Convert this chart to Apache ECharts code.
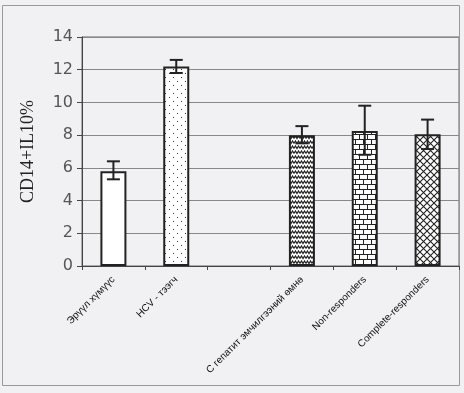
<!DOCTYPE html>
<html><head><meta charset="utf-8">
<script src="https://cdn.jsdelivr.net/npm/echarts@6/dist/echarts.min.js"></script>
<style>html,body{margin:0;padding:0;background:#f1f1f3}#c{width:464px;height:393px}</style>
</head><body><div id="c"></div>
<script>
const categories = ['Эрүүл хүмүүс', 'HCV - тээгч', '', 'С гепатит эмчилгээний өмнө', 'Non-responders', 'Complete-responders'];
const values = [5.8, 12.2, null, 8.0, 8.25, 8.05];
const errLow = [5.3, 11.8, null, 7.5, 6.8, 7.15];
const errHigh = [6.4, 12.6, null, 8.55, 9.8, 8.95];
const yTicks = [0, 2, 4, 6, 8, 10, 12, 14];

function mk(w, h, draw) {
  const c = document.createElement('canvas'); c.width = w; c.height = h;
  const g = c.getContext('2d'); g.fillStyle = '#fff'; g.fillRect(0, 0, w, h);
  g.strokeStyle = '#222'; g.fillStyle = '#333'; g.lineWidth = 1; draw(g); return c;
}
const patDots = mk(8, 8, g => { g.fillRect(1, 1, 1, 1); g.fillRect(5, 5, 1, 1); });
const patWave = mk(6, 5, g => { g.beginPath(); g.moveTo(0, 3.5); g.lineTo(1.5, 1); g.lineTo(3, 3.5); g.lineTo(4.5, 1); g.lineTo(6, 3.5); g.lineWidth = 1.2; g.stroke(); });
const patBrick = mk(8, 10, g => {
  g.fillStyle = '#222';
  g.fillRect(0, 4, 8, 1); g.fillRect(0, 9, 8, 1);
  g.fillRect(3, 0, 1, 4); g.fillRect(7, 5, 1, 4);
});
const patCross = mk(7, 7, g => {
  g.lineWidth = 1.1;
  g.beginPath(); g.moveTo(0, 0); g.lineTo(7, 7); g.moveTo(7, 0); g.lineTo(0, 7);
  g.stroke();
});
const fills = ['#ffffff', { image: patDots, repeat: 'repeat' }, '#ffffff', { image: patWave, repeat: 'repeat' }, { image: patBrick, repeat: 'repeat' }, { image: patCross, repeat: 'repeat' }];

const chart = echarts.init(document.getElementById('c'), null, { renderer: 'canvas' });
chart.setOption({
  backgroundColor: '#f1f1f3',
  animation: false,
  graphic: [{ type: 'rect', shape: { x: 2.5, y: 5.5, width: 457, height: 380 }, style: { fill: 'none', stroke: '#999', lineWidth: 1 } }],
  grid: { left: 82, right: 5, top: 37, bottom: 127, show: true, borderColor: '#666', borderWidth: 1, backgroundColor: 'transparent' },
  xAxis: {
    type: 'category', data: categories,
    axisLine: { lineStyle: { color: '#444', width: 1 } },
    axisTick: { show: true, length: 4, lineStyle: { color: '#444' } },
    axisLabel: { interval: 0, rotate: 45, fontSize: 10, fontFamily: 'Liberation Sans', color: '#111', margin: 12 }
  },
  yAxis: {
    type: 'value', min: 0, max: 14, interval: 2,
    name: 'CD14+IL10%', nameLocation: 'middle', nameGap: 45,
    nameTextStyle: { fontFamily: 'Liberation Serif', fontSize: 18, color: '#222' },
    axisLine: { show: true, lineStyle: { color: '#444' } },
    axisTick: { show: true, length: 5, lineStyle: { color: '#444' } },
    axisLabel: { fontSize: 16, color: '#555', fontFamily: 'DejaVu Sans', margin: 9,
      formatter: v => yTicks.includes(v) ? String(v) : '' },
    splitLine: { lineStyle: { color: '#888', width: 1 } }
  },
  series: [
    {
      type: 'bar', barWidth: 26,
      data: values.map((v, i) => v == null ? '-' : { value: v, itemStyle: { color: fills[i] } }),
      itemStyle: { borderColor: '#222', borderWidth: 2 }
    },
    {
      type: 'custom',
      data: errLow.map((l, i) => l == null ? null : [i, l, errHigh[i]]).filter(d => d),
      renderItem: (params, api) => {
        const x = api.value(0);
        const lo = api.coord([x, api.value(1)]);
        const hi = api.coord([x, api.value(2)]);
        const hw = 6.5;
        const st = { stroke: '#222', lineWidth: 2 };
        return { type: 'group', children: [
          { type: 'line', shape: { x1: lo[0], y1: lo[1], x2: hi[0], y2: hi[1] }, style: st },
          { type: 'line', shape: { x1: lo[0] - hw, y1: lo[1], x2: lo[0] + hw, y2: lo[1] }, style: st },
          { type: 'line', shape: { x1: hi[0] - hw, y1: hi[1], x2: hi[0] + hw, y2: hi[1] }, style: st }
        ] };
      },
      z: 5
    }
  ]
});
</script></body></html>
